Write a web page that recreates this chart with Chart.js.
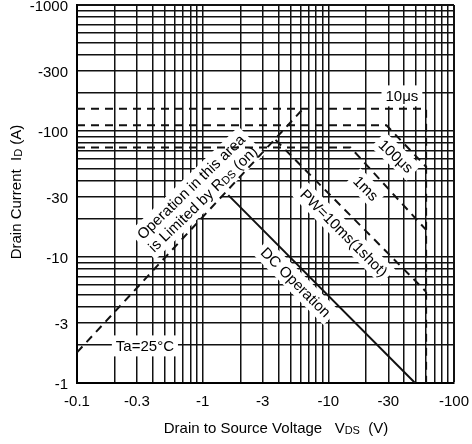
<!DOCTYPE html>
<html>
<head>
<meta charset="utf-8">
<script src="https://cdn.jsdelivr.net/npm/chart.js@4.4.0/dist/chart.umd.min.js"></script>
<style>
  html, body { margin: 0; padding: 0; background: #fff; }
  #wrap { width: 472px; height: 444px; }
</style>
</head>
<body>
<div id="wrap"><canvas id="soa" width="472" height="444"></canvas></div>
<script>
// values: drain-source voltage (V) / drain current (A)
const rdsVoltage = [-0.1, -6.3];
const rdsCurrent = [-1.75, -150];

const pw10usVoltage = [-0.1, -60, -60];
const pw10usCurrent = [-150, -150, -1];

const pw100usVoltage = [-0.1, -29, -60];
const pw100usCurrent = [-111, -111, -52];

const pw1msVoltage = [-0.1, -15, -60];
const pw1msCurrent = [-74, -74, -16.4];

const pw10msVoltage = [-3.8, -60];
const pw10msCurrent = [-85, -5.3];

const dcVoltage = [-1.6, -49];
const dcCurrent = [-31, -1];

const xTickValues = [-0.1, -0.3, -1, -3, -10, -30, -100];
const xTickLabels = ['-0.1', '-0.3', '-1', '-3', '-10', '-30', '-100'];
const yTickValues = [-1, -3, -10, -30, -100, -300, -1000];
const yTickLabels = ['-1', '-3', '-10', '-30', '-100', '-300', '-1000'];

const FONT = '"Liberation Sans", Arial, Helvetica, sans-serif';

// log axes only take positive numbers, so plot the magnitudes
function toPoints(volts, amps) {
    return volts.map(function (v, i) { return { x: Math.abs(v), y: Math.abs(amps[i]) }; });
}

// 1..9 grid lines in every decade
function decadeGrid(lo, hi) {
    const out = [];
    for (let e = lo; e < hi; e++) {
        for (let m = 1; m < 10; m++) out.push(parseFloat((m * Math.pow(10, e)).toPrecision(6)));
    }
    out.push(Math.pow(10, hi));
    return out;
}
const xGrid = decadeGrid(-1, 2);
const yGrid = decadeGrid(0, 3);

function labelFor(value, values, labels) {
    for (let i = 0; i < values.length; i++) {
        if (Math.abs(value / Math.abs(values[i]) - 1) < 1e-6) return labels[i];
    }
    return '';
}

// text notes placed on the plot (data coords, angle in degrees)
const notes = [
    { lines: ['10μs'], v: -38.5, i: -190, angle: 0 },
    { lines: ['100μs'], v: -34.5, i: -63, angle: 43 },
    { lines: ['1ms'], v: -19.9, i: -35, angle: 45 },
    { lines: ['PW=10ms(1shot)'], v: -13.3, i: -15.5, angle: 45 },
    { lines: ['DC Operation'], v: -5.5, i: -6.3, angle: 45 },
    { lines: ['Operation in this area', 'is Limited by R_{DS} (on)'], v: -0.9, i: -32.2, angle: -44 },
    { lines: ['Ta=25°C'], v: -0.347, i: -1.97, angle: 0 }
];

function parseParts(str) {
    const bits = str.split(/_\{([^}]*)\}/);
    return bits.map(function (t, k) { return { t: t, sub: k % 2 === 1 }; }).filter(function (p) { return p.t.length; });
}

function partsWidth(ctx, parts, size) {
    let w = 0;
    parts.forEach(function (p) {
        ctx.font = (p.sub ? size - 4 : size) + 'px ' + FONT;
        w += ctx.measureText(p.t).width;
    });
    return w;
}

function drawParts(ctx, parts, x, y, size) {
    let cx = x;
    parts.forEach(function (p) {
        ctx.font = (p.sub ? size - 4 : size) + 'px ' + FONT;
        ctx.fillText(p.t, cx, y + (p.sub ? 6 : 5));
        cx += ctx.measureText(p.t).width;
    });
}

function drawNote(ctx, lines, cx, cy, angle, size, bg) {
    const lineH = size + 2;
    ctx.save();
    ctx.translate(cx, cy);
    ctx.rotate(angle * Math.PI / 180);
    ctx.textBaseline = 'alphabetic';
    ctx.textAlign = 'left';
    const parsed = lines.map(parseParts);
    const widths = parsed.map(function (p) { return partsWidth(ctx, p, size); });
    const h = lines.length * lineH;
    if (bg) {
        const w = Math.max.apply(null, widths);
        ctx.fillStyle = '#fff';
        ctx.fillRect(-w / 2 - 4, -h / 2 - 2, w + 8, h + 4);
    }
    ctx.fillStyle = '#000';
    parsed.forEach(function (p, k) {
        drawParts(ctx, p, -widths[k] / 2, -h / 2 + lineH * (k + 0.5), size);
    });
    ctx.restore();
}

const soaNotes = {
    id: 'soaNotes',
    beforeDatasetsDraw: function (chart) {
        const ctx = chart.ctx;
        const xs = chart.scales.x, ys = chart.scales.y;
        notes.forEach(function (n) {
            drawNote(ctx, n.lines, xs.getPixelForValue(Math.abs(n.v)), ys.getPixelForValue(Math.abs(n.i)), n.angle, 15, true);
        });
    },
    afterDraw: function (chart) {
        const ctx = chart.ctx;
        drawNote(ctx, ['Drain to Source Voltage   V_{DS}  (V)'], 276, 428, 0, 15, false);
        drawNote(ctx, ['Drain Current  I_{D} (A)'], 16, 192, -90, 15, false);
    }
};

function lineSet(volts, amps, dashed) {
    return {
        data: toPoints(volts, amps),
        showLine: true,
        borderColor: '#111',
        borderWidth: 2,
        borderDash: dashed ? [8, 6] : [],
        pointRadius: 0,
        fill: false,
        tension: 0
    };
}

const ctx = document.getElementById('soa').getContext('2d');
const soaChart = new Chart(ctx, {
    type: 'scatter',
    data: {
        datasets: [
            lineSet(rdsVoltage, rdsCurrent, true),
            lineSet(pw10usVoltage, pw10usCurrent, true),
            lineSet(pw100usVoltage, pw100usCurrent, true),
            lineSet(pw1msVoltage, pw1msCurrent, true),
            lineSet(pw10msVoltage, pw10msCurrent, true),
            lineSet(dcVoltage, dcCurrent, false)
        ]
    },
    options: {
        responsive: false,
        animation: false,
        devicePixelRatio: 1,
        layout: { padding: { left: 0, top: 5, right: 18, bottom: 0 } },
        plugins: {
            legend: { display: false },
            tooltip: { enabled: false }
        },
        scales: {
            x: {
                type: 'logarithmic',
                min: 0.1,
                max: 100,
                afterBuildTicks: function (scale) {
                    scale.ticks = xGrid.map(function (v) { return { value: v }; });
                },
                afterFit: function (scale) {
                    scale.height = 61;
                    scale.paddingLeft = 0;
                    scale.paddingRight = 0;
                },
                ticks: {
                    autoSkip: false,
                    maxRotation: 0,
                    padding: 10,
                    color: '#000',
                    font: { family: FONT, size: 15 },
                    callback: function (value) { return labelFor(value, xTickValues, xTickLabels); }
                },
                grid: {
                    drawTicks: false,
                    color: '#111',
                    lineWidth: function (c) { return c.tick && c.tick.value === 100 ? 2 : 1.5; }
                },
                border: { color: '#000', width: 2 }
            },
            y: {
                type: 'logarithmic',
                min: 1,
                max: 1000,
                afterBuildTicks: function (scale) {
                    scale.ticks = yGrid.map(function (v) { return { value: v }; });
                },
                afterFit: function (scale) {
                    scale.width = 77;
                    scale.paddingTop = 0;
                    scale.paddingBottom = 0;
                },
                ticks: {
                    autoSkip: false,
                    padding: 9,
                    labelOffset: 1.5,
                    color: '#000',
                    font: { family: FONT, size: 15 },
                    callback: function (value) { return labelFor(value, yTickValues, yTickLabels); }
                },
                grid: {
                    drawTicks: false,
                    color: '#111',
                    lineWidth: function (c) { return c.tick && c.tick.value === 1000 ? 2 : 1.5; }
                },
                border: { color: '#000', width: 2 }
            }
        }
    },
    plugins: [soaNotes]
});
</script>
</body>
</html>
